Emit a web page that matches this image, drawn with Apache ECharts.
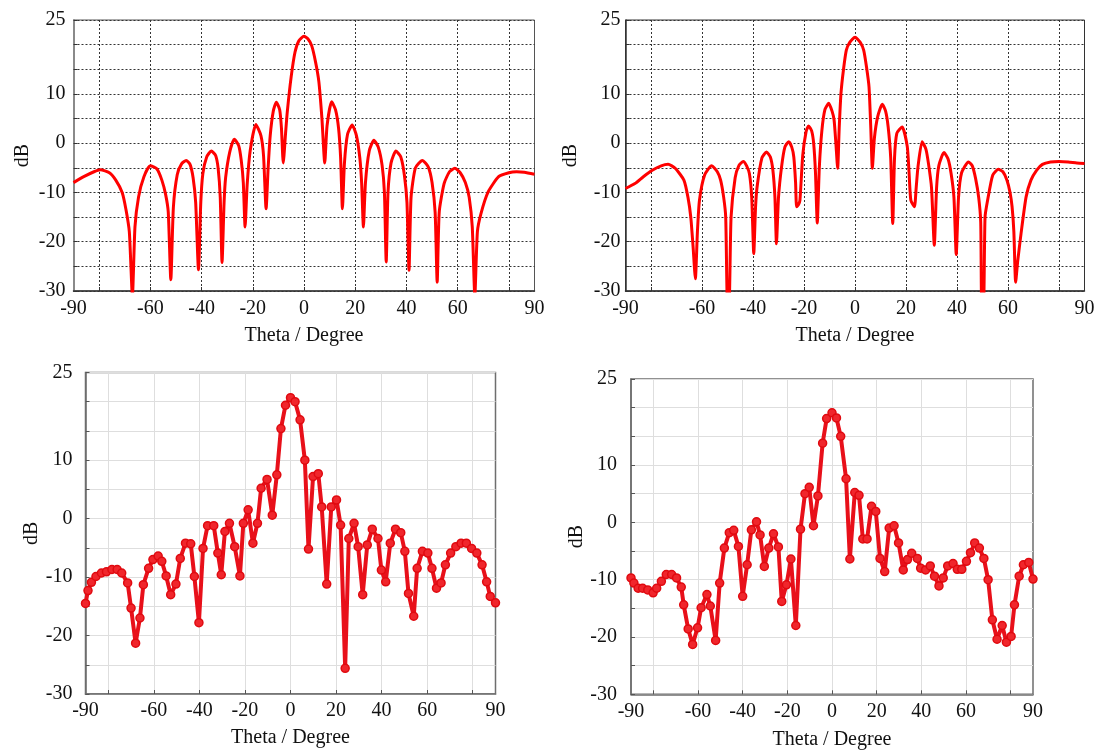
<!DOCTYPE html>
<html>
<head>
<meta charset="utf-8">
<script src="https://cdn.jsdelivr.net/npm/echarts@6/dist/echarts.min.js"></script>
<style>
html,body{margin:0;padding:0;background:#fff;}
#chart{width:1099px;height:751px;}
</style>
</head>
<body>
<div id="chart"></div>
<script>
// ---------- Data ----------
// Top-left panel (simulated pattern A)
var thetaTL = [-90,-86,-82,-79.5,-76,-73.5,-71,-69.5,-68.2,-67,-66,-64.6,-62.5,-60,-57.5,-55.5,-54,-53,-52,-51,-49.5,-47.8,-46,-44.5,-43.3,-42.3,-41.2,-40.3,-39.5,-38,-36.2,-34.5,-33.5,-32.7,-32,-31.2,-30.6,-29,-27.2,-25.5,-24.5,-23.7,-23,-22.2,-21,-18.8,-16.8,-15.8,-14.8,-14,-13.2,-12,-10.8,-9.5,-8.8,-8.1,-7.2,-6.5,-5,-3.5,-2,0,1.5,3,4.5,5.8,7,8.1,9,10.8,12.3,13.5,14.3,15,15.8,17,18.8,20.5,21.8,22.5,23.2,24,25.5,27.3,29,30.5,31.4,32.1,32.8,34,35.9,37.8,39.2,40.2,41,41.8,43.5,46.2,48.5,50,51.2,52,52.8,54.7,56.8,58.9,61,63,64.5,65.7,66.7,67.7,69.1,71.9,76,80,83,86,90];
var dbTL = [-8,-6.8,-5.8,-5.4,-6,-7.5,-10,-13.5,-18,-31,-17,-10.9,-6.8,-4.6,-5.2,-7.5,-10.5,-14,-27.7,-13,-6.4,-4.2,-3.5,-4.3,-7,-12,-25.7,-12,-6.2,-2.8,-1.6,-2.5,-5.2,-11,-24.2,-12,-7,-1.8,0.8,-0.5,-3.5,-8,-17,-8.5,-1.5,3.8,1.5,-2.5,-13.3,-5,1.5,6.5,8.3,6.8,3,-4,2,6.5,13.5,18.5,20.8,21.7,21.2,19.8,16.5,12.5,5,-4,3.5,8.4,6.8,3,-3,-13.3,-4,1.8,3.7,1.5,-3,-8,-17,-8,-1.5,0.6,-0.8,-4.5,-10,-24.1,-10,-4,-1.6,-2.8,-6.5,-12,-25.8,-11,-5,-3.5,-4.8,-8,-14,-28.2,-14,-8.2,-5.8,-5.1,-6,-8,-11,-17,-31,-18,-14.3,-9.9,-6.8,-6,-5.8,-5.9,-6.3];

// Top-right panel (simulated pattern B)
var thetaTR = [-90,-86.3,-83,-79.5,-76,-73.3,-70.5,-67.1,-65.5,-64.4,-63.5,-62.6,-61.8,-61,-59,-56.2,-54,-52.7,-51.5,-50.7,-50,-49.4,-48.6,-47,-45.5,-43.8,-42.5,-41.4,-40.5,-39.7,-39,-38.4,-36.5,-34.7,-33.2,-32.2,-31.4,-30.8,-30,-28.8,-27.5,-26,-24.8,-24,-23.3,-22.9,-22.2,-21.6,-20.5,-19.2,-18.2,-17,-16.2,-15.5,-14.8,-14,-13,-11.8,-10.3,-9,-8.2,-7.5,-6.8,-6.2,-5.5,-4.5,-3.4,-2,0,2,3.4,4.5,5.5,6.2,6.8,7.6,8.9,10.7,12,13,14,14.8,15.5,16.4,18.5,20.5,21.2,21.9,23.3,24,24.7,26.3,27.8,28.8,30,31.1,32,32.9,34.9,36.5,37.7,38.8,39.7,40.6,41.8,44.5,46,47.3,48.5,49.3,49.7,50.4,51,52,54,56.2,58,59.6,60.8,61.6,62.3,63,63.8,65.1,67.1,69,71.2,73.5,76.7,80,83.6,87,90];
var dbTR = [-9.2,-8.2,-6.8,-5.5,-4.6,-4.3,-5.1,-7.5,-11,-15,-21,-27.5,-18,-11.6,-6.5,-4.6,-5.8,-7.5,-11,-15,-33,-33,-15,-7,-4.5,-3.7,-4.6,-6.2,-11,-22.4,-13,-8.9,-3,-1.8,-2.8,-5.5,-11,-20.4,-11,-4.8,-0.8,0.3,-0.8,-2.8,-8,-12.9,-12.5,-11.6,-2.5,2.3,3.5,2.5,-0.1,-6,-16.2,-5,2.5,6.8,8.1,6.5,4.7,0,-5.1,3,10.1,15,18.9,20.5,21.5,20.5,18.9,15.5,11.4,3,-5.1,1,5.4,7.9,6.5,3.3,-3,-16.3,-3,2,3.3,-0.7,-6,-11.6,-12.9,-9,-4.8,0.3,-1.2,-4.1,-9,-20.7,-9,-4.5,-1.9,-3.2,-6.2,-11,-22.6,-11,-6,-3.8,-4.6,-7.2,-11,-16,-33,-33,-15,-11.6,-6.5,-5.3,-5.8,-7.5,-10,-12.9,-18,-28.2,-24,-18.4,-10.9,-7.5,-5.5,-4.3,-3.8,-3.7,-3.8,-4,-4.1];

// Bottom-left panel (measured pattern A)
var thetaBL = [-90,-88.9,-87.4,-85.4,-83,-80.8,-78.4,-76.1,-74.1,-71.5,-70,-68,-66.1,-64.6,-62.3,-60.4,-58.1,-56.5,-54.6,-52.6,-50.3,-48.4,-46.1,-43.8,-42.2,-40.2,-38.4,-36.4,-33.7,-31.9,-30.4,-28.8,-26.8,-24.5,-22.2,-20.7,-18.6,-16.5,-14.5,-12.9,-10.3,-8,-6,-4.2,-2.2,0,2,4.2,6.3,7.9,9.9,12.2,13.7,15.9,17.9,20.2,22,24,25.6,27.9,29.7,31.7,33.7,35.9,38.4,39.9,41.8,43.8,46.1,48.4,50.2,51.8,54.1,55.6,57.9,60.3,62.1,64.1,66.1,68,70.3,72.6,74.9,77.2,79.5,81.8,84.1,86.1,87.7,90];
var dbBL = [-14.5,-12.3,-10.9,-9.9,-9.3,-9.1,-8.7,-8.7,-9.3,-11,-15.3,-21.3,-17,-11.3,-8.5,-7,-6.4,-7.3,-9.8,-13,-11.2,-6.8,-4.2,-4.3,-9.9,-17.8,-5.1,-1.2,-1.2,-5.9,-9.6,-2.2,-0.8,-4.8,-9.8,-0.8,1.5,-4.2,-0.8,5.2,6.7,0.6,7.5,15.4,19.4,20.7,20,16.9,10,-5.2,7.2,7.7,2,-11.2,2,3.2,-1.1,-25.6,-3.4,-0.8,-4.8,-13,-4.5,-1.8,-3.4,-8.8,-10.8,-4.2,-1.8,-2.4,-5.6,-12.8,-16.7,-8.5,-5.6,-5.9,-8.5,-11.9,-11,-7.9,-5.9,-4.8,-4.2,-4.2,-5.1,-5.9,-7.9,-10.8,-13.3,-14.4];

// Bottom-right panel (measured pattern B)
var thetaBR = [-90,-88.7,-86.8,-84.8,-82.5,-80.1,-78.5,-76.4,-74.2,-71.8,-69.6,-67.5,-66.4,-64.4,-62.4,-60.2,-58.6,-56,-54.5,-52.1,-50.3,-48.2,-46,-44,-41.9,-40,-38,-36.1,-33.8,-32.2,-30.3,-28.3,-26.2,-24,-22.5,-20.4,-18.4,-16.2,-14.1,-12.1,-10.2,-8.3,-6.3,-4.2,-2.4,0,2,3.9,6.3,8,10.2,12.1,13.8,15.7,17.7,19.6,21.5,23.6,25.6,27.8,29.8,31.9,33.8,35.7,38.2,39.7,41.9,44,45.9,47.9,49.8,51.8,54.2,56.1,58.1,60.2,62,63.9,66,68,69.9,71.8,73.9,76.2,78.1,80.2,81.7,83.8,85.7,88.1,90];
var dbBR = [-9.7,-10.6,-11.5,-11.5,-11.8,-12.3,-11.5,-10.3,-9.1,-9.1,-9.7,-11.3,-14.4,-18.6,-21.3,-18.4,-14.9,-12.6,-14.6,-20.6,-10.6,-4.5,-1.8,-1.4,-4.2,-12.9,-7.4,-1.3,0.1,-2.2,-7.7,-4.5,-2,-4.3,-13.8,-10.9,-6.4,-18,-1.2,5,6.1,-0.6,4.6,13.8,18.1,19.1,18.2,15,7.6,-6.4,5.2,4.7,-2.9,-2.9,2.8,1.9,-6.3,-8.6,-1,-0.6,-3.6,-8.3,-6.5,-5.4,-6.3,-8,-8.3,-7.6,-9.4,-11.1,-9.7,-7.6,-7.2,-8.2,-8.2,-6.8,-5.3,-3.6,-4.5,-6.3,-10,-17,-20.4,-18,-20.9,-19.9,-14.4,-9.4,-7.4,-7,-9.9];

// Axis tick values
var xTickValues = [-80,-60,-40,-20,0,20,40,60,80];
var xLabelValues = [-90,-60,-40,-20,0,20,40,60,90];
var yLabelValues = [-30,-20,-10,0,10,25];

function pairs(xs, ys){ return xs.map(function(x,i){ return [x, ys[i]]; }); }

var FONT = 'Liberation Serif';
var txt = {fontFamily: FONT, fontSize: 20, color: '#111'};

function xAxisCfg(i, o){
  return {
    gridIndex: i, type: 'value', min: -90, max: 90,
    name: 'Theta / Degree', nameLocation: 'middle', nameGap: o.nameGap,
    nameTextStyle: txt,
    axisLine: {show: true, onZero: false, lineStyle: {color: o.axisColor, width: o.axisWidth}},
    axisTick: {show: true, inside: true, length: 4, customValues: xTickValues, lineStyle: {color: o.tickColor}},
    axisLabel: {customValues: xLabelValues, margin: o.labelMargin, fontFamily: FONT, fontSize: 20, color: '#111'},
    splitLine: {show: true, lineStyle: o.split}
  };
}
function yAxisCfg(i, o){
  return {
    gridIndex: i, type: 'value', min: -30, max: 25, interval: 5,
    name: 'dB', nameLocation: 'middle', nameGap: o.nameGap, nameRotate: 90,
    nameTextStyle: txt,
    axisLine: {show: true, onZero: false, lineStyle: {color: o.axisColor, width: o.axisWidth}},
    axisTick: {show: true, inside: true, length: 4, lineStyle: {color: o.tickColor}},
    axisLabel: {customValues: yLabelValues, margin: o.labelMargin, fontFamily: FONT, fontSize: 20, color: '#111'},
    splitLine: {show: true, lineStyle: o.split}
  };
}

var dotted = {color: '#333', width: 1, type: [2, 2]};
var light = {color: '#dedede', width: 1, type: 'solid'};

var option = {
  backgroundColor: '#fff',
  animation: false,
  grid: [
    {left: 73.5, top: 20, width: 461, height: 271, show: true, borderColor: '#555', borderWidth: 1, containLabel: false},
    {left: 625.5, top: 20, width: 459, height: 271, show: true, borderColor: '#333', borderWidth: 1, containLabel: false},
    {left: 85.5, top: 372.5, width: 410, height: 321.5, show: true, borderColor: '#6e6e6e', borderWidth: 1.5, containLabel: false},
    {left: 631, top: 379, width: 402, height: 315.3, show: true, borderColor: '#6e6e6e', borderWidth: 1.5, containLabel: false}
  ],
  xAxis: [
    xAxisCfg(0, {nameGap: 35, axisColor: '#333', axisWidth: 1.5, tickColor: '#333', labelMargin: 8, split: dotted}),
    xAxisCfg(1, {nameGap: 35, axisColor: '#333', axisWidth: 1.5, tickColor: '#333', labelMargin: 8, split: dotted}),
    xAxisCfg(2, {nameGap: 34, axisColor: '#6e6e6e', axisWidth: 1.5, tickColor: '#555', labelMargin: 7, split: light}),
    xAxisCfg(3, {nameGap: 35, axisColor: '#6e6e6e', axisWidth: 1.5, tickColor: '#555', labelMargin: 7, split: light})
  ],
  yAxis: [
    yAxisCfg(0, {nameGap: 41, axisColor: '#8a8a8a', axisWidth: 2, tickColor: '#333', labelMargin: 8, split: dotted}),
    yAxisCfg(1, {nameGap: 45, axisColor: '#333', axisWidth: 1.5, tickColor: '#333', labelMargin: 5, split: dotted}),
    yAxisCfg(2, {nameGap: 40, axisColor: '#6e6e6e', axisWidth: 1.5, tickColor: '#555', labelMargin: 13, split: light}),
    yAxisCfg(3, {nameGap: 41, axisColor: '#6e6e6e', axisWidth: 1.5, tickColor: '#555', labelMargin: 14, split: light})
  ],
  series: [
    {type: 'line', xAxisIndex: 0, yAxisIndex: 0, data: pairs(thetaTL, dbTL), showSymbol: false, symbol: 'none', smooth: 0.2, clip: true,
     lineStyle: {color: '#ff0000', width: 3}},
    {type: 'line', xAxisIndex: 1, yAxisIndex: 1, data: pairs(thetaTR, dbTR), showSymbol: false, symbol: 'none', smooth: 0.2, clip: true,
     lineStyle: {color: '#ff0000', width: 3}},
    {type: 'line', xAxisIndex: 2, yAxisIndex: 2, data: pairs(thetaBL, dbBL), symbol: 'circle', symbolSize: 8, clip: true,
     lineStyle: {color: '#e8101a', width: 4}, itemStyle: {color: '#f0262c', borderColor: '#e00a10', borderWidth: 1.5}},
    {type: 'line', xAxisIndex: 3, yAxisIndex: 3, data: pairs(thetaBR, dbBR), symbol: 'circle', symbolSize: 8, clip: true,
     lineStyle: {color: '#e8101a', width: 4}, itemStyle: {color: '#f0262c', borderColor: '#e00a10', borderWidth: 1.5}}
  ]
};

var chart = echarts.init(document.getElementById('chart'), null, {renderer: 'canvas'});
chart.setOption(option);
</script>
</body>
</html>
